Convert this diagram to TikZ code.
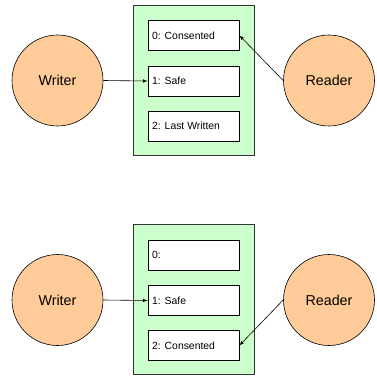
\documentclass[tikz,border=0pt]{standalone}
\usepackage{fontspec}
\setmainfont{Liberation Sans}
\definecolor{panelgreen}{HTML}{CCFFCC}
\definecolor{peach}{HTML}{FFCC99}
\definecolor{edgegray}{HTML}{333333}
\begin{document}
\begin{tikzpicture}[x=1pt,y=-1pt,
  panel/.style={draw=edgegray,fill=panelgreen,line width=0.8pt,minimum width=121pt,minimum height=150pt,inner sep=0pt},
  slot/.style={draw=black,fill=white,line width=0.8pt,minimum width=91pt,minimum height=30pt,inner sep=0pt},
  slottext/.style={anchor=west,font=\fontsize{10.4}{12}\selectfont,inner sep=0pt},
  actor/.style={circle,draw=black,fill=peach,line width=0.6pt,minimum size=91pt,inner sep=0pt,font=\fontsize{14.3}{16}\selectfont},
  link/.style={-latex,line width=0.6pt}]
\useasboundingbox (0,0) rectangle (377,377);
% top panel
\node[panel] (g1) at (193.5,80) {};
\node[slot] (a0) at (193.5,35.5) {};
\node[slot] (a1) at (193.5,81) {};
\node[slot] (a2) at (193.5,126) {};
\node[slottext] (ta0) at (152,35.5) {0: Consented};
\node[slottext] (ta1) at (152,81) {1: Safe};
\node[slottext] (ta2) at (152,126) {2: Last Written};
\node[actor] (w1) at (57.5,80.5) {Writer};
\node[actor] (r1) at (329,80.5) {Reader};
\draw[link] (w1.east) -- (a1.west);
\draw[link] (r1.west) -- (a0.east);
% bottom panel
\node[panel] (g2) at (193.5,299.5) {};
\node[slot] (b0) at (193.5,255) {};
\node[slot] (b1) at (193.5,300.5) {};
\node[slot] (b2) at (193.5,345.5) {};
\node[slottext] (tb0) at (152,255) {0:};
\node[slottext] (tb1) at (152,300.5) {1: Safe};
\node[slottext] (tb2) at (152,345.5) {2: Consented};
\node[actor] (w2) at (57.5,300) {Writer};
\node[actor] (r2) at (329,300) {Reader};
\draw[link] (w2.east) -- (b1.west);
\draw[link] (r2.west) -- (b2.east);
\end{tikzpicture}
\end{document}
